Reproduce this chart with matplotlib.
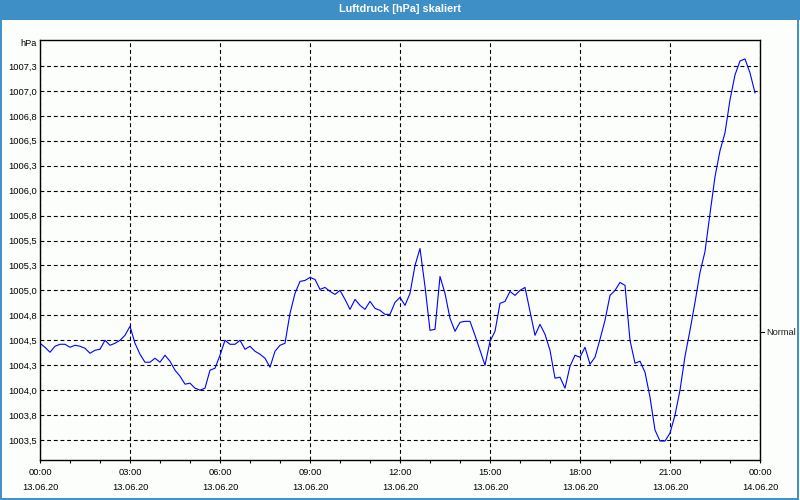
import matplotlib
matplotlib.use("Agg")
import matplotlib.dates as mdates
import matplotlib.patches as mpatches
import matplotlib.pyplot as plt
import matplotlib.transforms as mtransforms
import pandas as pd

plt.rcParams["font.family"] = ["Liberation Sans", "DejaVu Sans"]

title = "Luftdruck [hPa] skaliert"
unit = "hPa"
start = "2020-06-13 00:00"
end = "2020-06-14 00:00"

# 10-minute readings, hPa
pressure = [
    1004.47, 1004.43, 1004.38, 1004.44, 1004.46, 1004.46, 1004.43, 1004.45,
    1004.44, 1004.42, 1004.37, 1004.40, 1004.41, 1004.50, 1004.45, 1004.47,
    1004.50, 1004.55, 1004.64, 1004.47, 1004.36, 1004.28, 1004.28, 1004.32,
    1004.28, 1004.35, 1004.29, 1004.20, 1004.14, 1004.06, 1004.07, 1004.02,
    1004.00, 1004.02, 1004.20, 1004.22, 1004.35, 1004.50, 1004.46, 1004.46,
    1004.50, 1004.41, 1004.44, 1004.39, 1004.36, 1004.32, 1004.23, 1004.39,
    1004.45, 1004.47, 1004.77, 1004.97, 1005.09, 1005.10, 1005.13, 1005.11,
    1005.01, 1005.03, 1004.99, 1004.96, 1005.00, 1004.91, 1004.81, 1004.91,
    1004.85, 1004.81, 1004.89, 1004.82, 1004.80, 1004.76, 1004.76, 1004.88,
    1004.93, 1004.85, 1004.97, 1005.25, 1005.42, 1005.04, 1004.60, 1004.61,
    1005.14, 1004.97, 1004.72, 1004.59, 1004.68, 1004.69, 1004.69, 1004.55,
    1004.40, 1004.25, 1004.49, 1004.59, 1004.87, 1004.89, 1004.99, 1004.95,
    1005.00, 1005.03, 1004.79, 1004.55, 1004.66, 1004.56, 1004.40, 1004.12,
    1004.13, 1004.02, 1004.24, 1004.35, 1004.33, 1004.43, 1004.26, 1004.33,
    1004.51, 1004.70, 1004.95, 1005.00, 1005.08, 1005.05, 1004.50, 1004.27,
    1004.29, 1004.18, 1003.93, 1003.60, 1003.49, 1003.49, 1003.57, 1003.75,
    1004.00, 1004.34, 1004.60, 1004.88, 1005.18, 1005.39, 1005.77, 1006.14,
    1006.40, 1006.58, 1006.91, 1007.16, 1007.30, 1007.32, 1007.18, 1006.98,
]

y_ticks = [1003.5, 1003.75, 1004.0, 1004.25, 1004.5, 1004.75, 1005.0, 1005.25,
           1005.5, 1005.75, 1006.0, 1006.25, 1006.5, 1006.75, 1007.0, 1007.25]
y_tick_labels = ["1003,5", "1003,8", "1004,0", "1004,3", "1004,5", "1004,8",
                 "1005,0", "1005,3", "1005,5", "1005,8", "1006,0", "1006,3",
                 "1006,5", "1006,8", "1007,0", "1007,3"]
normal_level = 1004.58
normal_label = "Normal"

bar_blue = "#3d8fc6"
bg = "#fcfefc"
fs = 6.7

times = pd.date_range(start, periods=len(pressure), freq="10min")
major = pd.date_range(start, end, freq="3h")
minor = pd.date_range(start, end, freq="1h")

fig = plt.figure(figsize=(8, 5), dpi=100, facecolor=bg)
ax = fig.add_axes([0.05, 0.08, 0.90, 0.84], facecolor=bg)

ax.plot(mdates.date2num(times), pressure, color="#0000ff", linewidth=0.8)

ax.set_xlim(mdates.date2num(pd.Timestamp(start)), mdates.date2num(pd.Timestamp(end)))
ax.set_ylim(1003.30, 1007.51)

ax.set_yticks(y_ticks, y_tick_labels)
ax.set_xticks(mdates.date2num(major),
              [t.strftime("%H:%M\n%d.%m.%y") for t in major])
for lab in ax.get_xticklabels():
    lab.set_linespacing(1.8)
ax.set_xticks(mdates.date2num(minor), minor=True)

ax.tick_params(axis="y", length=0, pad=2.5, labelsize=fs, colors="black")
ax.tick_params(axis="x", which="both", length=2.5, width=0.8, direction="out",
               pad=3.2, labelsize=fs)

grid_style = dict(color="black", linewidth=0.8, linestyle=(0, (3.5, 2.5)))
ax.grid(True, which="major", **grid_style)

for sp in ax.spines.values():
    sp.set_linewidth(1.0)
    sp.set_color("black")

# "Normal" marker on the right edge
trans = mtransforms.blended_transform_factory(ax.transAxes, ax.transData)
ax.plot([1.0, 1.006], [normal_level, normal_level], color="black",
        linewidth=0.8, transform=trans, clip_on=False)
ax.text(1.008, normal_level, normal_label, transform=trans, ha="left",
        va="center", fontsize=fs, color="#202020")

fig.text(36.5 / 800, 1 - 44 / 500, unit, ha="right", va="center", fontsize=fs)

# title bar and frame
fig.patches.append(mpatches.Rectangle((0, 1 - 20 / 500), 1, 20 / 500,
                                      transform=fig.transFigure,
                                      facecolor=bar_blue, edgecolor="none"))
fig.patches.append(mpatches.Rectangle((0.001, 0.002), 0.997, 0.997,
                                      transform=fig.transFigure,
                                      facecolor="none", edgecolor=bar_blue,
                                      linewidth=1.4))
fig.text(0.5, 1 - 9.5 / 500, title, ha="center", va="center", fontsize=7.8,
         fontweight="bold", color="white")

fig.savefig("out.png", dpi=100, facecolor=bg)
